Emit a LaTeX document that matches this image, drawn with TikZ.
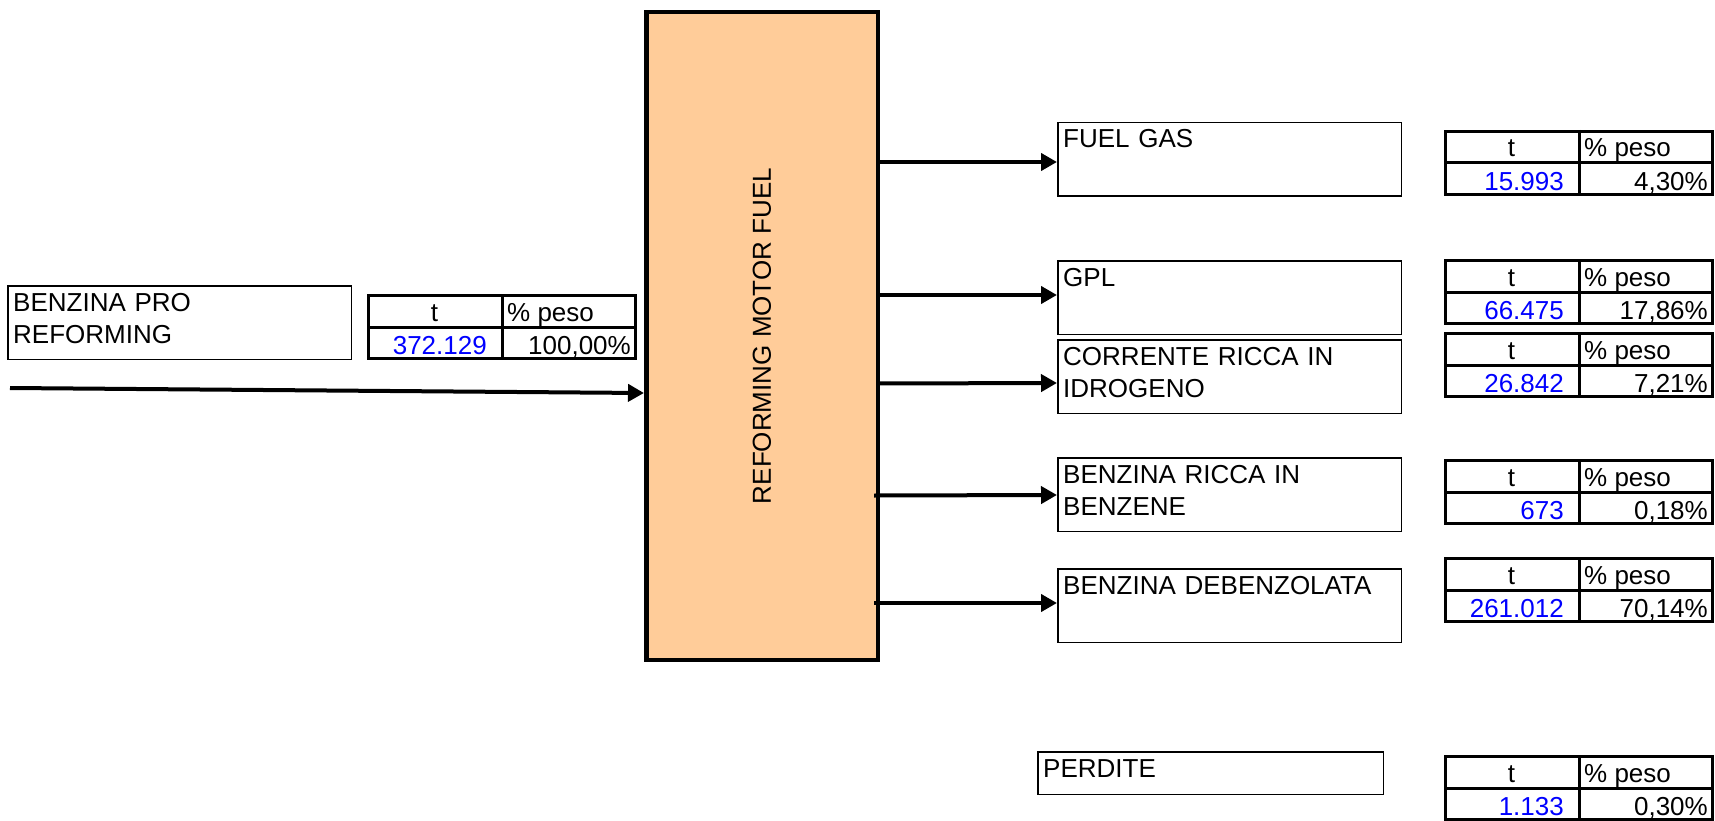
\documentclass[tikz,border=0pt]{standalone}
\usepackage{fontspec}
\setmainfont{Liberation Sans}
\usetikzlibrary{arrows.meta,calc}
\definecolor{peach}{HTML}{FFCC99}
\newcommand{\dfont}{\fontsize{26}{32.5}\selectfont}
\tikzset{
  stream/.style={draw=black, line width=1.5pt, inner sep=0pt, minimum width=343.5pt, minimum height=73.5pt, anchor=north west},
  lbl/.style={anchor=base west, inner sep=0pt, text width=335pt, align=left, font=\dfont},
  tbl/.style={draw=black, line width=3pt, inner sep=0pt, minimum width=267pt, minimum height=63pt, anchor=north west},
  tline/.style={line width=3pt},
  cell/.style={inner sep=0pt, font=\dfont},
  val/.style={cell, text=blue, anchor=base east},
  flow/.style={line width=4pt, -{Triangle[length=16pt,width=17pt]}},
  reactor/.style={draw=black, line width=4.5pt, fill=peach, inner sep=0pt, minimum width=231.5pt, minimum height=647.5pt}
}
% #1 name, #2 left, #3 top, #4 value, #5 percent
\newcommand{\flowtable}[5]{%
  \node[tbl] (#1) at (#2,#3) {};
  \draw[tline] (#1.west) -- (#1.east);
  \draw[tline] ($(#1.north west)+(135,0)$) -- ($(#1.south west)+(135,0)$);
  \node[cell, anchor=base] (#1-t) at ($(#1.north west)+(67.5,27)$) {t};
  \node[cell, anchor=base west] (#1-p) at ($(#1.north west)+(140,27)$) {\% peso};
  \node[val] (#1-v) at ($(#1.north west)+(120,60)$) {#4};
  \node[cell, anchor=base east] (#1-q) at ($(#1.north west)+(264,60)$) {#5};
}
\begin{document}
\begin{tikzpicture}[x=1pt,y=-1pt]
\useasboundingbox (0,0) rectangle (1715,821);
\clip (0,0) rectangle (1715,821);

% main unit
\node[reactor] (main) at (762,336) {};
\node[cell, rotate=90] (mainlbl) at (main.center) {REFORMING MOTOR FUEL};

% input
\node[stream] (inbox) at (7,285) {};
\node[lbl] (inlbl) at ($(inbox.north west)+(6,26)$) {BENZINA PRO\\REFORMING};
\flowtable{tin}{367}{294}{372.129}{100,00\%}
\coordinate (inS) at (10,388);
\draw[flow] (inS) -- ($(main.north west)+(0,383)$);

% outputs
\node[stream] (fuel) at (1057,122) {};
\node[lbl] (fuellbl) at ($(fuel.north west)+(6,26)$) {FUEL GAS};
\flowtable{tfuel}{1444}{130}{15.993}{4,30\%}

\node[stream] (gpl) at (1057,260) {};
\node[lbl] (gpllbl) at ($(gpl.north west)+(6,26)$) {GPL};
\flowtable{tgpl}{1444}{259}{66.475}{17,86\%}

\node[stream] (corr) at (1057,339) {};
\node[lbl] (corrlbl) at ($(corr.north west)+(6,26)$) {CORRENTE RICCA IN\\IDROGENO};
\flowtable{tcorr}{1444}{332}{26.842}{7,21\%}

\node[stream] (benz) at (1057,457) {};
\node[lbl] (benzlbl) at ($(benz.north west)+(6,26)$) {BENZINA RICCA IN\\BENZENE};
\flowtable{tbenz}{1444}{459}{673}{0,18\%}

\node[stream] (deb) at (1057,568) {};
\node[lbl] (deblbl) at ($(deb.north west)+(6,26)$) {BENZINA DEBENZOLATA};
\flowtable{tdeb}{1444}{557}{261.012}{70,14\%}

\node[stream, minimum width=345.5pt, minimum height=42.5pt] (perd) at (1037,751) {};
\node[lbl] (perdlbl) at ($(perd.north west)+(6,26)$) {PERDITE};
\flowtable{tperd}{1444}{755}{1.133}{0,30\%}

% output connectors
\draw[flow] ($(main.east |- fuel.west)+(-2,2.5)$) -- ($(fuel.west)+(0,2.5)$);
\draw[flow] ($(main.east |- gpl.west)+(-2,-2.5)$) -- ($(gpl.west)+(0,-2.5)$);
\draw[flow] ($(main.east |- corr.west)+(-2,7)$) -- ($(corr.west)+(0,6.5)$);
\draw[flow] ($(main.east |- benz.west)+(-6,1)$) -- ($(benz.west)+(0,0.5)$);
\draw[flow] ($(main.east |- deb.west)+(-6,-2.5)$) -- ($(deb.west)+(0,-2.5)$);
\end{tikzpicture}
\end{document}
